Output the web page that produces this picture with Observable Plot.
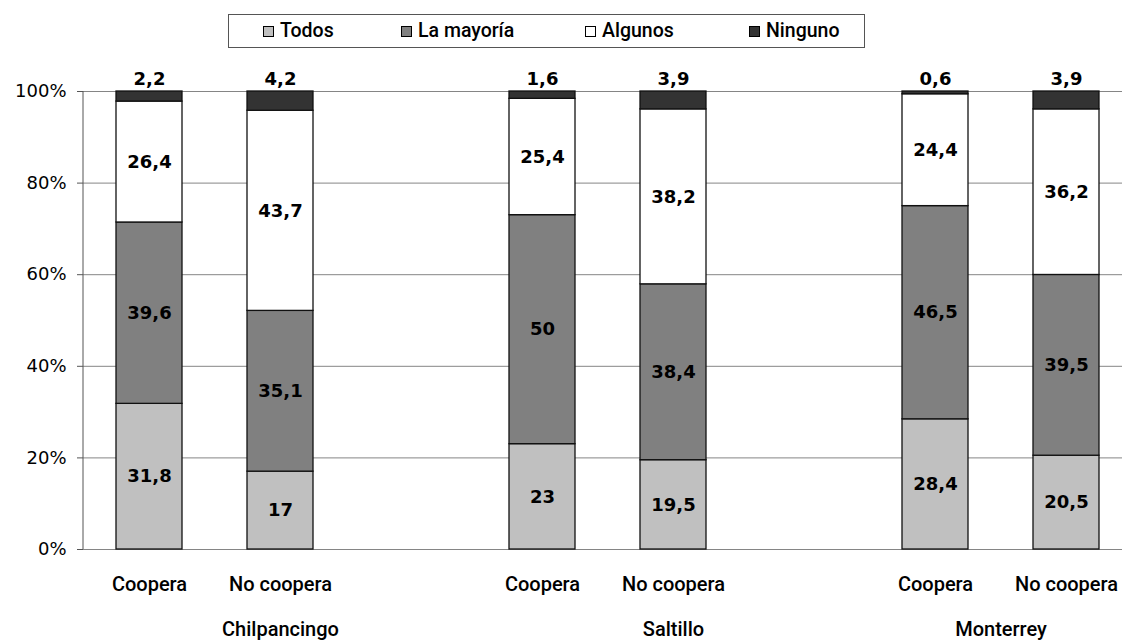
<!DOCTYPE html>
<html><head><meta charset="utf-8">
<script src="https://cdn.jsdelivr.net/npm/d3@7"></script>
<script src="https://cdn.jsdelivr.net/npm/@observablehq/plot@0.6"></script>
<style>
body{margin:0;background:#fff;font-family:Roboto,sans-serif;overflow:hidden;}
#legend{position:relative;height:60px;width:1122px;}
#legend .box{position:absolute;left:228px;top:14px;width:637px;height:34px;border:1px solid #555;box-sizing:border-box;}
#legend .item{position:absolute;top:21px;font:500 19.5px Roboto,sans-serif;display:flex;align-items:center;line-height:20px;color:#000;white-space:nowrap;}
#legend .sw{width:11px;height:11px;border:1px solid #000;margin-right:6px;box-sizing:border-box;}
</style></head>
<body><div id="legend"><div class="box"></div></div><div id="chart"></div>
<script>
const cities = ["Chilpancingo", "Saltillo", "Monterrey"];
const groups = ["Coopera", "No coopera"];
const categories = ["Todos", "La mayoría", "Algunos", "Ninguno"];
const colors = ["#c0c0c0", "#808080", "#ffffff", "#333333"];
// bar order: Chilpancingo C, NC, Saltillo C, NC, Monterrey C, NC
const todos   = [31.8, 17,   23,   19.5, 28.4, 20.5];
const mayoria = [39.6, 35.1, 50,   38.4, 46.5, 39.5];
const algunos = [26.4, 43.7, 25.4, 38.2, 24.4, 36.2];
const ninguno = [2.2,  4.2,  1.6,  3.9,  0.6,  3.9];
const yTicks = [0, 0.2, 0.4, 0.6, 0.8, 1];

const series = [todos, mayoria, algunos, ninguno];
// category slots: each city owns its two bars plus a trailing empty slot (except the last)
const slots = [];
const citySlots = {};
cities.forEach((c, i) => {
  citySlots[c] = [];
  groups.forEach(g => { slots.push(c + "|" + g); citySlots[c].push(c + "|" + g); });
  if (i < cities.length - 1) { slots.push("gap" + i); citySlots[c].push("gap" + i); }
});
const rows = [];
cities.forEach((c, ci) => groups.forEach((g, gi) => {
  const b = ci * 2 + gi;
  categories.forEach((cat, k) => rows.push({city: c, group: g, slot: c + "|" + g, cat, value: series[k][b]}));
}));
const fmt = v => String(v).replace(".", ",");

// legend
const leg = document.getElementById("legend");
const legLeft = [263, 401, 585, 749];
categories.forEach((cat, k) => {
  const it = document.createElement("div");
  it.className = "item";
  it.style.left = legLeft[k] + "px";
  it.innerHTML = `<span class="sw" style="background:${colors[k]}"></span>${cat}`;
  leg.appendChild(it);
});

const step = 131;
const x0 = 116;
const labelFont = "DejaVu Sans, sans-serif";
// group label sits at the centre of the city's slot span
const cityMid = c => {
  const s = citySlots[c], m = (s.length - 1) / 2;
  return {slot: s[Math.floor(m)], frac: m - Math.floor(m)};
};
const plot = Plot.plot({
  width: 1122,
  height: 582,
  marginTop: 31,
  marginBottom: 93,
  marginLeft: 83,
  marginRight: 0,
  style: {fontFamily: "Roboto, sans-serif", color: "#000", background: "#fff"},
  x: {domain: slots, range: [x0, x0 + step * (slots.length - 0.5)], paddingInner: 0.5, paddingOuter: 0, align: 0.5},
  y: {domain: [0, 1]},
  color: {domain: categories, range: colors},
  marks: [
    Plot.ruleY(yTicks, {stroke: "#858585", strokeWidth: 1}),
    Plot.barY(rows, Plot.stackY({offset: "normalize", x: "slot", y: "value", fill: "cat", stroke: "#111", strokeWidth: 1.3, inset: 0})),
    Plot.text(rows, Plot.stackY({offset: "normalize", x: "slot", y: "value", z: "cat",
      text: d => d.cat === "Ninguno" ? null : fmt(d.value),
      fontFamily: labelFont, fontWeight: "bold", fontSize: 18, fill: "#000"})),
    Plot.text(rows.filter(d => d.cat === "Ninguno"), {x: "slot", y: () => 1, text: d => fmt(d.value), dy: -12,
      fontFamily: labelFont, fontWeight: "bold", fontSize: 18, fill: "#000"}),
    Plot.axisY({ticks: yTicks, tickFormat: d3.format(".0%"), tickSize: 6, tickPadding: 11, fontSize: 18, fontFamily: "DejaVu Sans, sans-serif", label: null, stroke: "#555"}),
    Plot.axisX({tickSize: 0, tickPadding: 27, fontSize: 20, fontWeight: 500, label: null,
      tickFormat: s => s.startsWith("gap") ? "" : s.split("|")[1]}),
    ...cities.map(c => {
      const m = cityMid(c);
      return Plot.text([c], {x: () => m.slot, y: () => 0, dx: m.frac * step, dy: 80, text: d => d, fontSize: 20, fontWeight: 500, fill: "#000"});
    })
  ]
});
// vertical y-axis line at the left edge of the frame, from the y scale's range
const yr = plot.scale("y").range;
d3.select(plot).append("line")
  .attr("x1", 83).attr("x2", 83)
  .attr("y1", yr[0]).attr("y2", yr[1])
  .attr("stroke", "#555").attr("stroke-width", 1);
document.getElementById("chart").appendChild(plot);
</script>
</body></html>
